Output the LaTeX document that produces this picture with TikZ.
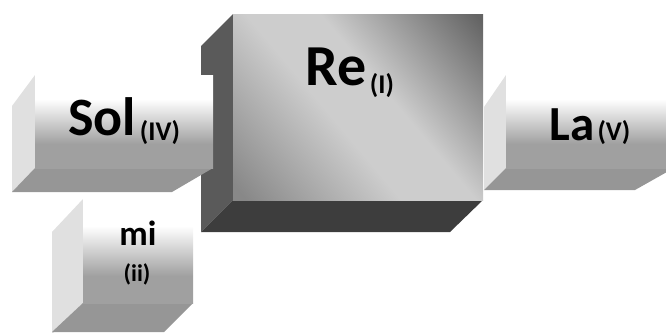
\documentclass[tikz,border=0pt]{standalone}
\usepackage{fontspec}
\setmainfont{Carlito}
\definecolor{sidelight}{HTML}{E0E0E0}
\definecolor{botgray}{HTML}{969696}
\definecolor{frontgray}{HTML}{A0A0A0}
\definecolor{releft}{HTML}{5A5A5A}
\definecolor{rebottom}{HTML}{3D3D3D}
\definecolor{retop}{HTML}{646464}
\definecolor{rebot}{HTML}{888888}
\definecolor{remid}{HTML}{CDCDCD}
\pgfdeclareverticalshading{frontshade}{100bp}{color(0bp)=(frontgray); color(25bp)=(frontgray); color(38bp)=(frontgray); color(62bp)=(white); color(100bp)=(white)}
\pgfdeclareverticalshading{reshade}{100bp}{color(0bp)=(rebot); color(17bp)=(rebot); color(44bp)=(remid); color(57bp)=(remid); color(84bp)=(retop); color(100bp)=(retop)}
\tikzset{
  lightside/.style={fill=sidelight, draw=none},
  lightbottom/.style={fill=botgray, draw=none},
  lightfront/.style={shading=frontshade, draw=none},
  lbl/.style={inner sep=0pt, font=\bfseries, text=black},
}
\begin{document}
\begin{tikzpicture}[x=1pt,y=-1pt]
\useasboundingbox (0,0) rectangle (666,332);
\clip (0,0) rectangle (666,332);
% Re box
\fill[releft] (233,14) -- (201,46) -- (201,232) -- (233,200) -- cycle;
\fill[rebottom] (233,200) -- (483,200) -- (450,232) -- (201,232) -- cycle;
\shade[shading=reshade, shading angle=-50] (233,14) rectangle (483,200);
% Sol box
\fill[lightside] (35,75) -- (12,106) -- (12,192) -- (35,168) -- cycle;
\fill[lightbottom] (35,168) -- (213,168) -- (172,192) -- (12,192) -- cycle;
\shade[lightfront] (35,75) rectangle (213,168);
% La box
\fill[lightside] (506,75) -- (484,107) -- (484,190) -- (506,168) -- cycle;
\fill[lightbottom] (506,168) -- (674,168) -- (635,190) -- (484,190) -- cycle;
\shade[lightfront] (506,75) rectangle (674,168);
% mi box
\fill[lightside] (83,199) -- (52,232) -- (52,334) -- (83,303) -- cycle;
\fill[lightbottom] (83,303) -- (193,303) -- (164,332) -- (52,332) -- cycle;
\shade[lightfront] (83,199) rectangle (193,303);
% labels
\node[lbl, anchor=base] (re) at (350,85) {\fontsize{58}{58}\selectfont Re\hspace{3pt}{\fontsize{27}{27}\selectfont\raisebox{-8pt}{(I)}}};
\node[lbl, anchor=base] (sol) at (124,135) {\fontsize{54}{54}\selectfont Sol\hspace{4pt}{\fontsize{27}{27}\selectfont\raisebox{-5pt}{(IV)}}};
\node[lbl, anchor=base] (la) at (590,140) {\fontsize{49}{49}\selectfont La\hspace{3pt}{\fontsize{27}{27}\selectfont(V)}};
\node[lbl, anchor=base] (mi) at (138,245) {\fontsize{35}{35}\selectfont mi};
\node[lbl, anchor=base] (ii) at (137,281) {\fontsize{24}{24}\selectfont (ii)};
\end{tikzpicture}
\end{document}
